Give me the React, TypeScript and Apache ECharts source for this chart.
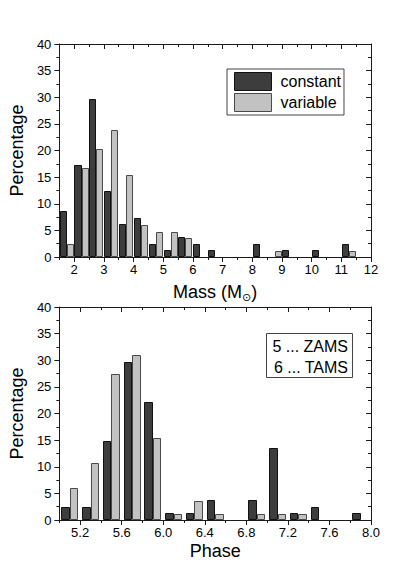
import React, { useEffect, useRef } from 'react';
import * as echarts from 'echarts';

// ---- Data (percentages) ----
const massBins = [1.75, 2.25, 2.75, 3.25, 3.75, 4.25, 4.75, 5.25, 5.75, 6.25, 6.75, 7.25, 7.75, 8.25, 8.75, 9.25, 9.75, 10.25, 10.75, 11.25, 11.75];
const massConstant = [8.64, 17.28, 29.63, 12.35, 6.17, 7.41, 2.47, 1.23, 3.7, 2.47, 1.23, 0, 0, 2.47, 0, 1.23, 0, 1.23, 0, 2.47, 0];
const massVariable = [2.38, 16.67, 20.24, 23.81, 15.48, 5.95, 4.76, 4.76, 3.57, 0, 0, 0, 0, 0, 1.19, 0, 0, 0, 0, 1.19, 0];

const phaseBins = [5.1, 5.3, 5.5, 5.7, 5.9, 6.1, 6.3, 6.5, 6.7, 6.9, 7.1, 7.3, 7.5, 7.7, 7.9];
const phaseConstant = [2.47, 2.47, 14.81, 29.63, 22.22, 1.23, 1.23, 3.7, 0, 3.7, 13.58, 1.23, 2.47, 0, 1.23];
const phaseVariable = [5.95, 10.71, 27.38, 30.95, 15.48, 1.19, 3.57, 1.19, 0, 1.19, 1.19, 1.19, 0, 0, 0];

const massMajorTicks = [2, 3, 4, 5, 6, 7, 8, 9, 10, 11, 12];
const massMinorTicks = [1.5, 2.5, 3.5, 4.5, 5.5, 6.5, 7.5, 8.5, 9.5, 10.5, 11.5];
const phaseMajorTicks = [5.2, 5.6, 6.0, 6.4, 6.8, 7.2, 7.6, 8.0];
const phaseMinorTicks = [5.0, 5.4, 5.8, 6.2, 6.6, 7.0, 7.4, 7.8];

const seriesNames = ['constant', 'variable'];
const phaseNote = ['5 ... ZAMS', '6 ... TAMS'];

const FONT = "'Liberation Sans', Arial, sans-serif";
const DARK_FILL = '#3d3d3d';
const DARK_STROKE = '#111111';
const LIGHT_FILL = '#c2c2c2';
const LIGHT_STROKE = '#4a4a4a';
const AXIS_COLOR = '#1a1a1a';

function barSeries(name: string, bins: number[], values: number[], side: number, w: number, fill: string, stroke: string, xi: number, yi: number) {
  return {
    type: 'custom',
    name,
    xAxisIndex: xi,
    yAxisIndex: yi,
    itemStyle: { color: fill, borderColor: stroke, borderWidth: 1 },
    data: bins.map((b, i) => [b, values[i]]),
    encode: { x: 0, y: 1 },
    renderItem: (params: any, api: any) => {
      const c = api.value(0);
      const v = api.value(1);
      if (!v) return null;
      const x0 = side < 0 ? c - w : c;
      const x1 = side < 0 ? c : c + w;
      const a = api.coord([x0, v]);
      const b = api.coord([x1, 0]);
      const ax = Math.round(a[0]);
      const ay = Math.round(a[1]);
      const bx = Math.round(b[0]);
      const by = Math.round(b[1]);
      return {
        type: 'rect',
        shape: { x: ax + 0.5, y: ay + 0.5, width: bx - ax - 1, height: by - ay - 1 },
        style: { fill, stroke, lineWidth: 1 },
      };
    },
  };
}

function xAxes(gridIndex: number, min: number, max: number, major: number[], minor: number[], fmt: (v: number) => string, name: string, nameGap: number, rich: any) {
  const common = { type: 'value', gridIndex, min, max, splitLine: { show: false } };
  return [
    {
      ...common,
      position: 'bottom',
      name,
      nameLocation: 'middle',
      nameGap,
      nameTextStyle: { fontSize: 18, color: '#000', fontFamily: FONT, lineHeight: 22, rich },
      axisLine: { show: true, lineStyle: { color: AXIS_COLOR, width: 1 } },
      axisTick: { show: true, inside: false, length: 5, customValues: major, lineStyle: { color: AXIS_COLOR } },
      axisLabel: { show: true, customValues: major, formatter: fmt, fontSize: 13, color: '#000', fontFamily: FONT, margin: 6 },
    },
    {
      ...common,
      position: 'bottom',
      axisLine: { show: false },
      axisTick: { show: true, inside: false, length: 3, customValues: minor, lineStyle: { color: AXIS_COLOR } },
      axisLabel: { show: false },
    },
    {
      ...common,
      position: 'top',
      axisLine: { show: true, lineStyle: { color: AXIS_COLOR, width: 1 } },
      axisTick: { show: true, inside: true, length: 5, customValues: major, lineStyle: { color: AXIS_COLOR } },
      axisLabel: { show: false },
    },
    {
      ...common,
      position: 'top',
      axisLine: { show: false },
      axisTick: { show: true, inside: true, length: 3, customValues: minor, lineStyle: { color: AXIS_COLOR } },
      axisLabel: { show: false },
    },
  ];
}

function yAxes(gridIndex: number) {
  const common = {
    type: 'value',
    gridIndex,
    min: 0,
    max: 40,
    interval: 5,
    splitLine: { show: false },
    minorSplitLine: { show: false },
    axisLine: { show: true, lineStyle: { color: AXIS_COLOR, width: 1 } },
  };
  return [
    {
      ...common,
      position: 'left',
      name: 'Percentage',
      nameLocation: 'middle',
      nameGap: 31,
      nameTextStyle: { fontSize: 18, color: '#000', fontFamily: FONT },
      axisTick: { show: true, inside: false, length: 5, lineStyle: { color: AXIS_COLOR } },
      minorTick: { show: true, splitNumber: 2, length: 3, lineStyle: { color: AXIS_COLOR } },
      axisLabel: { show: true, fontSize: 13, color: '#000', fontFamily: FONT, margin: 8 },
    },
    {
      ...common,
      position: 'right',
      axisTick: { show: true, inside: true, length: 5, lineStyle: { color: AXIS_COLOR } },
      minorTick: { show: true, splitNumber: 2, length: 3, lineStyle: { color: AXIS_COLOR } },
      axisLabel: { show: false },
    },
  ];
}

export default function App() {
  const ref = useRef<HTMLDivElement>(null);

  useEffect(() => {
    if (!ref.current) return;
    const chart = echarts.init(ref.current, null, { renderer: 'svg' });

    const subRich = {
      sub: { fontSize: 11, lineHeight: 8, verticalAlign: 'bottom', fontFamily: "'DejaVu Sans', sans-serif", color: '#000' },
    };

    const option: any = {
      animation: false,
      backgroundColor: '#ffffff',
      textStyle: { fontFamily: FONT },
      grid: [
        { left: 58, top: 44, width: 313, height: 213 },
        { left: 58, top: 307, width: 313, height: 213 },
      ],
      xAxis: [
        ...xAxes(0, 1.5, 12, massMajorTicks, massMinorTicks, (v: number) => String(v), 'Mass (M{sub|⊙})', 24, subRich),
        ...xAxes(1, 5.0, 8.0, phaseMajorTicks, phaseMinorTicks, (v: number) => v.toFixed(1), 'Phase', 15, undefined),
      ],
      yAxis: [...yAxes(0), ...yAxes(1)],
      legend: {
        orient: 'vertical',
        left: 227,
        top: 69,
        itemWidth: 37,
        itemHeight: 18,
        itemGap: 2,
        padding: [3, 3, 3, 7],
        borderColor: '#444',
        borderWidth: 1,
        backgroundColor: '#fff',
        selectedMode: false,
        textStyle: { fontSize: 16, color: '#000', fontFamily: FONT, padding: [0, 0, 0, 4] },
        data: [
          { name: seriesNames[0], icon: 'rect', itemStyle: { color: DARK_FILL, borderColor: DARK_STROKE, borderWidth: 1 } },
          { name: seriesNames[1], icon: 'rect', itemStyle: { color: LIGHT_FILL, borderColor: LIGHT_STROKE, borderWidth: 1 } },
        ],
      },
      graphic: [
        {
          type: 'group',
          left: 266,
          top: 333,
          children: [
            { type: 'rect', shape: { x: 0.5, y: 0.5, width: 86, height: 44 }, style: { fill: '#fff', stroke: '#444', lineWidth: 1 } },
            {
              type: 'text',
              x: 82,
              y: 3,
              style: { text: phaseNote.join('\n'), align: 'right', verticalAlign: 'top', fontSize: 16, lineHeight: 21, fill: '#000', fontFamily: FONT },
            },
          ],
        },
      ],
      series: [
        barSeries(seriesNames[0], massBins, massConstant, -1, 0.24, DARK_FILL, DARK_STROKE, 0, 0),
        barSeries(seriesNames[1], massBins, massVariable, 1, 0.235, LIGHT_FILL, LIGHT_STROKE, 0, 0),
        barSeries(seriesNames[0], phaseBins, phaseConstant, -1, 0.082, DARK_FILL, DARK_STROKE, 4, 2),
        barSeries(seriesNames[1], phaseBins, phaseVariable, 1, 0.083, LIGHT_FILL, LIGHT_STROKE, 4, 2),
      ],
    };

    chart.setOption(option);
    return () => chart.dispose();
  }, []);

  return (
    <div
      ref={ref}
      style={{ position: 'fixed', left: 0, top: 0, width: 407, height: 576, background: '#fff' }}
    />
  );
}
